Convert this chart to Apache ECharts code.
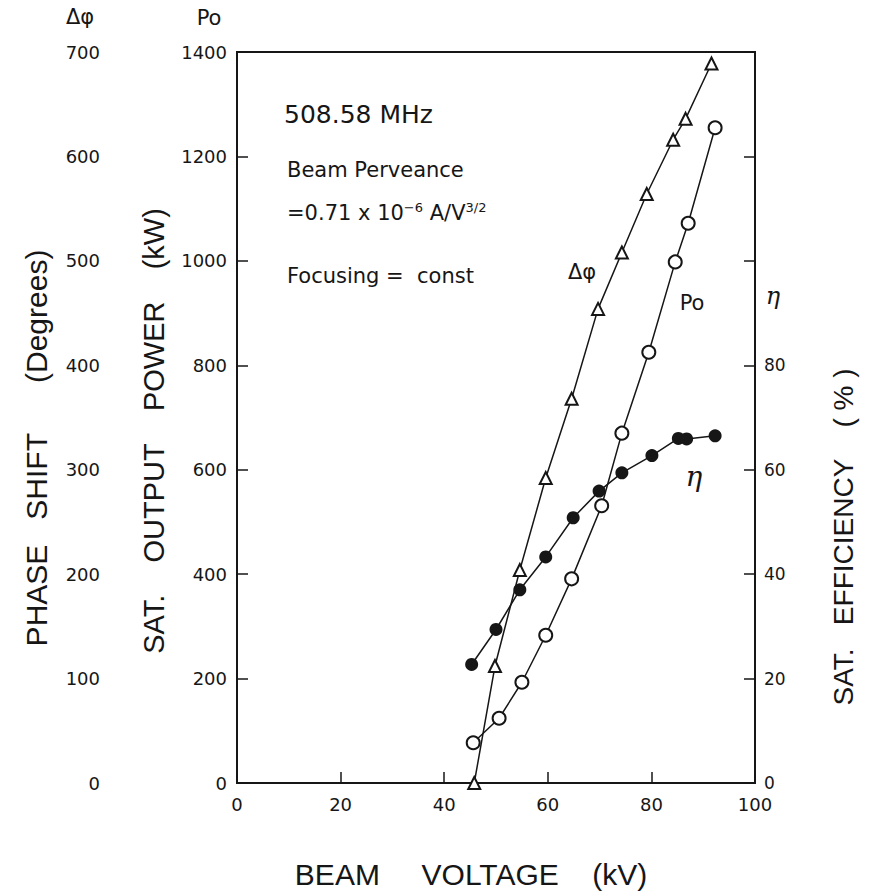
<!DOCTYPE html>
<html>
<head>
<meta charset="utf-8">
<script src="https://cdn.jsdelivr.net/npm/echarts@6/dist/echarts.min.js"></script>
<style>html,body{margin:0;padding:0;background:#fff}#c{width:877px;height:894px}</style>
</head>
<body>
<div id="c"></div>
<script>
// Beam voltage (kV) for each measured point
const phaseVoltage = [45.8, 49.8, 54.6, 59.6, 64.6, 69.7, 74.3, 79.1, 84.2, 86.6, 91.6];
const phaseShift   = [0, 112, 204, 292, 368, 454, 508, 564, 616, 636, 689];      // degrees
const powerVoltage = [45.6, 50.6, 55.0, 59.6, 64.6, 70.4, 74.3, 79.5, 84.6, 87.1, 92.3];
const outputPower  = [77, 124, 193, 283, 391, 531, 670, 825, 998, 1072, 1255];   // kW
const effVoltage   = [45.3, 50.0, 54.6, 59.6, 64.9, 69.9, 74.3, 80.1, 85.2, 86.8, 92.3];
const efficiency   = [22.7, 29.4, 37.0, 43.3, 50.8, 55.9, 59.4, 62.7, 66.0, 65.9, 66.5]; // %

const xTicks = [0, 20, 40, 60, 80, 100];
const powerTicks = [0, 200, 400, 600, 800, 1000, 1200, 1400];
const phaseTicks = [0, 100, 200, 300, 400, 500, 600, 700];
const effTicks = [0, 20, 40, 60, 80];

const TITLE_FONT = 'Liberation Sans';
const FONT = 'DejaVu Sans';
const sp = n => '\u00a0'.repeat(n);
const INK = '#161616';

function pairs(xs, ys) { return xs.map((x, i) => [x, ys[i]]); }
function txt(x, y, text, size, opts) {
  opts = opts || {};
  return {
    type: 'text', x: x, y: y, rotation: opts.rotation || 0,
    style: Object.assign({
      text: text, fontSize: size, fontFamily: opts.family || FONT, fill: INK,
      align: opts.align || 'center', verticalAlign: 'middle',
      fontStyle: opts.italic ? 'italic' : 'normal'
    }, opts.style || {})
  };
}

const chart = echarts.init(document.getElementById('c'), null, {renderer: 'svg'});
const lineStyle = {color: INK, width: 1.5};
const tickStyle = {show: true, inside: true, length: 11, lineStyle: {color: INK, width: 1.5}};
const labelStyle = {fontSize: 18, color: INK, fontFamily: FONT, formatter: v => String(v)};

chart.setOption({
  animation: false,
  backgroundColor: '#fff',
  textStyle: {fontFamily: FONT, color: INK},
  grid: {left: 237, right: 122, top: 52, bottom: 111, show: true, borderColor: INK, borderWidth: 2},
  xAxis: {
    type: 'value', min: xTicks[0], max: xTicks[xTicks.length - 1], interval: 20,
    axisLine: {show: true, lineStyle: {color: INK, width: 2}},
    axisTick: tickStyle,
    splitLine: {show: false},
    axisLabel: Object.assign({}, labelStyle, {margin: 12})
  },
  yAxis: [
    {
      type: 'value', min: powerTicks[0], max: powerTicks[powerTicks.length - 1], interval: 200, position: 'left',
      axisLine: {show: true, lineStyle: {color: INK, width: 2}},
      axisTick: tickStyle,
      splitLine: {show: false},
      axisLabel: Object.assign({}, labelStyle, {margin: 10})
    },
    {
      type: 'value', min: phaseTicks[0], max: phaseTicks[phaseTicks.length - 1], interval: 100, position: 'left', offset: 127,
      axisLine: {show: false}, axisTick: {show: false}, splitLine: {show: false},
      axisLabel: Object.assign({}, labelStyle, {margin: 10})
    },
    {
      type: 'value', min: 0, max: 140, interval: 20, position: 'right',
      axisLine: {show: true, lineStyle: {color: INK, width: 2}},
      axisTick: tickStyle,
      splitLine: {show: false},
      axisLabel: Object.assign({}, labelStyle, {margin: 9, fontSize: 17,
        formatter: v => (effTicks.indexOf(v) >= 0 ? String(v) : '')})
    }
  ],
  series: [
    {
      name: 'Δφ', type: 'line', yAxisIndex: 1, data: pairs(phaseVoltage, phaseShift),
      symbol: 'emptyTriangle', symbolSize: 12, lineStyle: lineStyle,
      itemStyle: {color: INK, borderWidth: 1.5}, z: 3
    },
    {
      name: 'Po', type: 'line', yAxisIndex: 0, data: pairs(powerVoltage, outputPower),
      symbol: 'emptyCircle', symbolSize: 13, lineStyle: lineStyle,
      itemStyle: {color: INK, borderWidth: 1.5}, z: 3
    },
    {
      name: 'η', type: 'line', yAxisIndex: 2, data: pairs(effVoltage, efficiency),
      symbol: 'circle', symbolSize: 13, lineStyle: lineStyle,
      itemStyle: {color: INK}, z: 4
    }
  ],
  graphic: [
    txt(80, 17, 'Δφ', 21),
    txt(209, 18, 'Po', 21),
    txt(284, 114, '508.58' + sp(1) + 'MHz', 25, {align: 'left'}),
    txt(287, 170, 'Beam Perveance', 21, {align: 'left'}),
    txt(287, 213, '=0.71 x 10{sup|−6} A/V{sup|3/2}', 21, {align: 'left', style: {
      rich: {sup: {fontSize: 13, fontFamily: FONT, fill: INK, padding: [0, 0, 12, 0]}}}}),
    txt(287, 276, 'Focusing' + sp(1) + '=' + sp(2) + 'const', 21, {align: 'left'}),
    txt(582, 272, 'Δφ', 21),
    txt(692, 303, 'Po', 21),
    txt(694, 476, 'η', 28, {family: 'DejaVu Serif', italic: true}),
    txt(773, 296, 'η', 24, {family: 'DejaVu Serif', italic: true}),
    txt(36, 448, 'PHASE' + sp(3) + 'SHIFT' + sp(6) + '(Degrees)', 30, {family: TITLE_FONT, rotation: Math.PI / 2}),
    txt(154, 431, 'SAT.' + sp(4) + 'OUTPUT' + sp(4) + 'POWER' + sp(4) + '(kW)', 29, {family: TITLE_FONT, rotation: Math.PI / 2}),
    txt(843, 537, 'SAT.' + sp(3) + 'EFFICIENCY' + sp(4) + '(' + sp(1) + '%' + sp(1) + ')', 28, {family: TITLE_FONT, rotation: Math.PI / 2}),
    txt(471, 874, 'BEAM' + sp(5) + 'VOLTAGE' + sp(4) + '(kV)', 30, {family: TITLE_FONT})
  ]
});
</script>
</body>
</html>
